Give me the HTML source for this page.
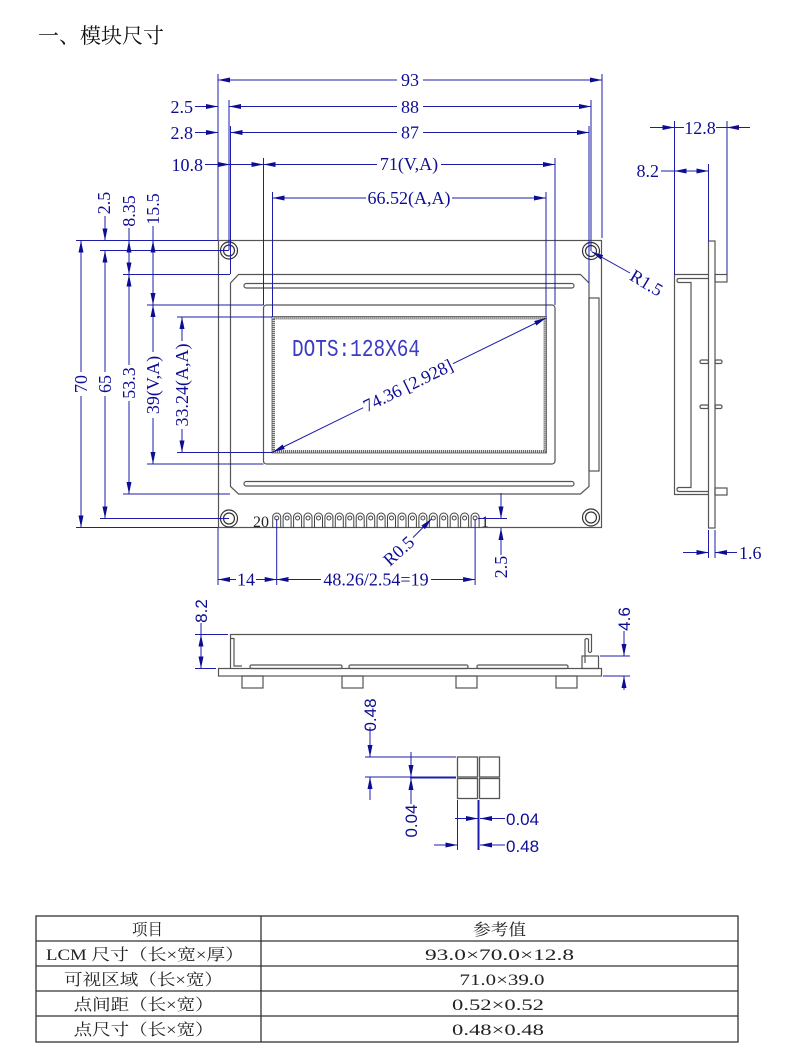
<!DOCTYPE html>
<html><head><meta charset="utf-8">
<style>
html,body{margin:0;padding:0;background:#fff;}
svg{display:block;}
.d{stroke:#1c1ca8;stroke-width:1;fill:none;}
.o{stroke:#555;stroke-width:1.2;fill:none;}
.t{font-family:"Liberation Serif",serif;font-size:18px;fill:#0d0d94;}
.s{font-family:"Liberation Sans",sans-serif;font-size:17px;fill:#0d0d94;}
.w{fill:#fff;}
.tb{font-family:"Liberation Serif","Noto Serif CJK SC",serif;font-size:16px;fill:#222;}
</style></head><body>
<svg width="790" height="1063" viewBox="0 0 790 1063" xmlns="http://www.w3.org/2000/svg">
<defs>
<marker id="a" viewBox="0 0 12 5" refX="12" refY="2.5" markerWidth="12" markerHeight="5" markerUnits="userSpaceOnUse" orient="auto-start-reverse"><path d="M0,0L12,2.5L0,5z" fill="#0d0d94"/></marker>
</defs>

<!-- Title -->
<text x="38" y="43" font-family="'Liberation Serif','Noto Serif CJK SC',serif" font-size="21" fill="#111">一、模块尺寸</text>

<!-- ===== FRONT VIEW OUTLINES ===== -->
<rect x="218.5" y="240.5" width="383" height="287" class="o"/>
<path class="o" d="M238.5,274.5H580.5L589,283V486.5L580.5,494H238.5L230.5,486.5V283Z"/>
<rect x="244" y="283.5" width="330" height="4.5" rx="2.2" class="o"/>
<rect x="244" y="481.5" width="330" height="4.5" rx="2.2" class="o"/>
<rect x="589" y="298" width="10" height="173" class="o"/>
<rect x="263.5" y="305" width="291.5" height="159" rx="3" class="o"/>
<rect x="273.5" y="318" width="271.5" height="133.5" fill="none" stroke="#6a6a6a" stroke-width="3" stroke-dasharray="1.2 0.8"/>
<rect x="272" y="316.5" width="274.5" height="136.5" fill="none" stroke="#555" stroke-width="0.8"/>
<g stroke="#333" stroke-width="1.2" fill="none">
<circle cx="229" cy="250.5" r="8.5"/><circle cx="229" cy="250.5" r="5.5"/>
<circle cx="591" cy="251" r="8.5"/><circle cx="591" cy="251" r="5.5"/>
<circle cx="229" cy="518.5" r="8.5"/><circle cx="229" cy="518.5" r="5.5"/>
<circle cx="591" cy="517.5" r="8.5"/><circle cx="591" cy="517.5" r="5.5"/>
</g>
<!-- pins -->
<g stroke="#444" stroke-width="1" fill="none">
<path d="M272.7,528V517a4,4 0 0 1 8,0V528"/><circle cx="276.7" cy="518" r="2"/>
<path d="M283.1,528V517a4,4 0 0 1 8,0V528"/><circle cx="287.1" cy="518" r="2"/>
<path d="M293.6,528V517a4,4 0 0 1 8,0V528"/><circle cx="297.6" cy="518" r="2"/>
<path d="M304,528V517a4,4 0 0 1 8,0V528"/><circle cx="308" cy="518" r="2"/>
<path d="M314.5,528V517a4,4 0 0 1 8,0V528"/><circle cx="318.5" cy="518" r="2"/>
<path d="M324.9,528V517a4,4 0 0 1 8,0V528"/><circle cx="328.9" cy="518" r="2"/>
<path d="M335.3,528V517a4,4 0 0 1 8,0V528"/><circle cx="339.3" cy="518" r="2"/>
<path d="M345.8,528V517a4,4 0 0 1 8,0V528"/><circle cx="349.8" cy="518" r="2"/>
<path d="M356.2,528V517a4,4 0 0 1 8,0V528"/><circle cx="360.2" cy="518" r="2"/>
<path d="M366.7,528V517a4,4 0 0 1 8,0V528"/><circle cx="370.7" cy="518" r="2"/>
<path d="M377.1,528V517a4,4 0 0 1 8,0V528"/><circle cx="381.1" cy="518" r="2"/>
<path d="M387.5,528V517a4,4 0 0 1 8,0V528"/><circle cx="391.5" cy="518" r="2"/>
<path d="M398,528V517a4,4 0 0 1 8,0V528"/><circle cx="402" cy="518" r="2"/>
<path d="M408.4,528V517a4,4 0 0 1 8,0V528"/><circle cx="412.4" cy="518" r="2"/>
<path d="M418.9,528V517a4,4 0 0 1 8,0V528"/><circle cx="422.9" cy="518" r="2"/>
<path d="M429.3,528V517a4,4 0 0 1 8,0V528"/><circle cx="433.3" cy="518" r="2"/>
<path d="M439.7,528V517a4,4 0 0 1 8,0V528"/><circle cx="443.7" cy="518" r="2"/>
<path d="M450.2,528V517a4,4 0 0 1 8,0V528"/><circle cx="454.2" cy="518" r="2"/>
<path d="M460.6,528V517a4,4 0 0 1 8,0V528"/><circle cx="464.6" cy="518" r="2"/>
<path d="M471.1,528V517a4,4 0 0 1 8,0V528"/><circle cx="475.1" cy="518" r="2"/>
</g>
<text x="253" y="527" font-family="'Liberation Serif',serif" font-size="16" fill="#222">20</text>
<text x="481" y="527" font-family="'Liberation Serif',serif" font-size="16" fill="#222">1</text>

<text x="292" y="356" font-family="'Liberation Mono',monospace" font-size="24" fill="#3b3bc4" textLength="128" lengthAdjust="spacingAndGlyphs">DOTS:128X64</text>

<!-- diagonal -->
<line class="d" x1="273" y1="452" x2="546" y2="318" marker-start="url(#a)" marker-end="url(#a)"/>
<g transform="translate(408,385.5) rotate(-26.1)"><rect class="w" x="-50" y="-8" width="100" height="16"/><text class="t" text-anchor="middle" y="6">74.36 [2.928]</text></g>

<!-- ===== TOP DIMENSIONS ===== -->
<g class="d">
<line x1="218" y1="74" x2="218" y2="240"/>
<line x1="602" y1="74" x2="602" y2="238"/>
<line x1="218" y1="80" x2="602" y2="80" marker-start="url(#a)" marker-end="url(#a)"/>
<line x1="229" y1="100" x2="229" y2="250"/>
<line x1="591" y1="100" x2="591" y2="251"/>
<line x1="229" y1="106.5" x2="591" y2="106.5" marker-start="url(#a)" marker-end="url(#a)"/>
<line x1="195" y1="106.5" x2="218" y2="106.5" marker-end="url(#a)"/>
<line x1="230.5" y1="126" x2="230.5" y2="274"/>
<line x1="589" y1="126" x2="589" y2="283"/>
<line x1="230.5" y1="132.5" x2="589" y2="132.5" marker-start="url(#a)" marker-end="url(#a)"/>
<line x1="195" y1="132.5" x2="218" y2="132.5" marker-end="url(#a)"/>
<line x1="263.5" y1="158" x2="263.5" y2="305"/>
<line x1="555" y1="158" x2="555" y2="305"/>
<line x1="205" y1="164.5" x2="230" y2="164.5" marker-end="url(#a)"/>
<line x1="230" y1="164.5" x2="263.5" y2="164.5" marker-end="url(#a)"/>
<line x1="263.5" y1="164.5" x2="555" y2="164.5" marker-start="url(#a)" marker-end="url(#a)"/>
<line x1="272.5" y1="192" x2="272.5" y2="317"/>
<line x1="546" y1="192" x2="546" y2="317"/>
<line x1="272.5" y1="198" x2="546" y2="198" marker-start="url(#a)" marker-end="url(#a)"/>
</g>
<rect class="w" x="397" y="72" width="26" height="16"/><text class="t" x="410" y="86" text-anchor="middle">93</text>
<rect class="w" x="397" y="99" width="26" height="16"/><text class="t" x="410" y="113" text-anchor="middle">88</text>
<rect class="w" x="397" y="125" width="26" height="16"/><text class="t" x="410" y="138.5" text-anchor="middle">87</text>
<rect class="w" x="377" y="156" width="64" height="17"/><text class="t" x="409" y="170" text-anchor="middle">71(V,A)</text>
<rect class="w" x="366" y="190" width="86" height="17"/><text class="t" x="409" y="204" text-anchor="middle">66.52(A,A)</text>
<text class="t" x="193" y="113" text-anchor="end">2.5</text>
<text class="t" x="193" y="139" text-anchor="end">2.8</text>
<text class="t" x="203" y="171" text-anchor="end">10.8</text>

<!-- ===== LEFT DIMENSIONS ===== -->
<g class="d">
<line x1="76" y1="240.5" x2="218" y2="240.5"/>
<line x1="76" y1="527.5" x2="218" y2="527.5"/>
<line x1="81" y1="240.5" x2="81" y2="527.5" marker-start="url(#a)" marker-end="url(#a)"/>
<line x1="100" y1="250.5" x2="229" y2="250.5"/>
<line x1="100" y1="518.5" x2="229" y2="518.5"/>
<line x1="105" y1="250.5" x2="105" y2="518.5" marker-start="url(#a)" marker-end="url(#a)"/>
<line x1="105" y1="216" x2="105" y2="240.5" marker-end="url(#a)"/>
<line x1="123" y1="274.5" x2="230" y2="274.5"/>
<line x1="123" y1="494" x2="230" y2="494"/>
<line x1="129" y1="274.5" x2="129" y2="494" marker-start="url(#a)" marker-end="url(#a)"/>
<line x1="129" y1="240.5" x2="129" y2="274.5" marker-start="url(#a)" marker-end="url(#a)"/>
<line x1="129" y1="228" x2="129" y2="240.5"/>
<line x1="147" y1="305" x2="263.5" y2="305"/>
<line x1="147" y1="464" x2="263.5" y2="464"/>
<line x1="153" y1="305" x2="153" y2="464" marker-start="url(#a)" marker-end="url(#a)"/>
<line x1="153" y1="240.5" x2="153" y2="305" marker-start="url(#a)" marker-end="url(#a)"/>
<line x1="153" y1="226" x2="153" y2="240.5"/>
<line x1="177" y1="317" x2="272.5" y2="317"/>
<line x1="177" y1="452.5" x2="272.5" y2="452.5"/>
<line x1="182" y1="317" x2="182" y2="452.5" marker-start="url(#a)" marker-end="url(#a)"/>
</g>
<g transform="translate(81,384) rotate(-90)"><rect class="w" x="-12" y="-8" width="24" height="16"/><text class="t" text-anchor="middle" y="6">70</text></g>
<g transform="translate(105,384) rotate(-90)"><rect class="w" x="-12" y="-8" width="24" height="16"/><text class="t" text-anchor="middle" y="6">65</text></g>
<g transform="translate(129,383) rotate(-90)"><rect class="w" x="-18" y="-8" width="36" height="16"/><text class="t" text-anchor="middle" y="6">53.3</text></g>
<g transform="translate(153,385) rotate(-90)"><rect class="w" x="-33" y="-8" width="66" height="17"/><text class="t" text-anchor="middle" y="6">39(V,A)</text></g>
<g transform="translate(182,385) rotate(-90)"><rect class="w" x="-44" y="-8" width="88" height="17"/><text class="t" text-anchor="middle" y="6">33.24(A,A)</text></g>
<g transform="translate(104,203) rotate(-90)"><text class="t" text-anchor="middle" y="6">2.5</text></g>
<g transform="translate(129,211) rotate(-90)"><text class="t" text-anchor="middle" y="6">8.35</text></g>
<g transform="translate(153,209) rotate(-90)"><text class="t" text-anchor="middle" y="6">15.5</text></g>

<!-- R1.5 -->
<line class="d" x1="630" y1="273" x2="591.5" y2="251.5" marker-end="url(#a)"/>
<g transform="translate(630,273) rotate(31)"><text class="t" x="2" y="6">R1.5</text></g>

<!-- ===== BOTTOM DIMENSIONS ===== -->
<g class="d">
<line x1="218" y1="528" x2="218" y2="585"/>
<line x1="276.7" y1="519" x2="276.7" y2="585"/>
<line x1="475.1" y1="519" x2="475.1" y2="585"/>
<line x1="218" y1="579.5" x2="276.7" y2="579.5" marker-start="url(#a)" marker-end="url(#a)"/>
<line x1="276.7" y1="579.5" x2="475.1" y2="579.5" marker-start="url(#a)" marker-end="url(#a)"/>
<line x1="478" y1="518.5" x2="507" y2="518.5"/>
<line x1="501" y1="493" x2="501" y2="518.5" marker-end="url(#a)"/>
<line x1="501" y1="555" x2="501" y2="528" marker-end="url(#a)"/>
<line x1="413" y1="537.5" x2="431.5" y2="519" marker-end="url(#a)"/>
</g>
<rect class="w" x="236" y="572" width="20" height="16"/><text class="t" x="246" y="585.5" text-anchor="middle">14</text>
<rect class="w" x="321" y="572" width="110" height="16"/><text class="t" x="376" y="585.5" text-anchor="middle">48.26/2.54=19</text>
<g transform="translate(501,567) rotate(-90)"><text class="t" text-anchor="middle" y="6">2.5</text></g>
<g transform="translate(413,538) rotate(-42)"><text class="t" text-anchor="end" x="-2" y="6">R0.5</text></g>

<!-- ===== SIDE VIEW ===== -->
<rect x="708.5" y="241" width="6.5" height="287" class="o"/>
<path class="o" d="M708,274.5H674.5V494.5H708"/>
<path class="o" d="M708,278.5H679Q677,278.5 677,280.5Q677,282.5 679,282.5H691V487.5H679Q677,487.5 677,489.5Q677,491.5 679,491.5H708"/>
<rect x="715" y="274.5" width="12" height="7.5" class="o"/>
<rect x="715" y="488" width="12" height="7" class="o"/>
<rect x="700" y="360" width="8.5" height="3.5" rx="1.5" class="o"/>
<rect x="715" y="360" width="7" height="3.5" rx="1.5" class="o"/>
<rect x="700" y="405" width="8.5" height="3.5" rx="1.5" class="o"/>
<rect x="715" y="405" width="7" height="3.5" rx="1.5" class="o"/>
<g class="d">
<line x1="674.5" y1="121" x2="674.5" y2="274.5"/>
<line x1="727" y1="121" x2="727" y2="274.5"/>
<line x1="650" y1="127.5" x2="674.5" y2="127.5" marker-end="url(#a)"/>
<line x1="750" y1="127.5" x2="727" y2="127.5" marker-end="url(#a)"/>
<line x1="674.5" y1="127.5" x2="727" y2="127.5"/>
<line x1="708.5" y1="164" x2="708.5" y2="241"/>
<line x1="661" y1="171" x2="708.5" y2="171" marker-end="url(#a)"/>
<line x1="686" y1="171" x2="674.5" y2="171" marker-end="url(#a)"/>
<line x1="708.5" y1="530" x2="708.5" y2="558"/>
<line x1="715" y1="530" x2="715" y2="558"/>
<line x1="683" y1="552.5" x2="708.5" y2="552.5" marker-end="url(#a)"/>
<line x1="737" y1="552.5" x2="715" y2="552.5" marker-end="url(#a)"/>
</g>
<rect class="w" x="684" y="120" width="32" height="15"/><text class="t" x="700" y="134" text-anchor="middle">12.8</text>
<text class="t" x="659" y="177" text-anchor="end">8.2</text>
<text class="t" x="739" y="559">1.6</text>

<!-- ===== BOTTOM SIDE VIEW ===== -->
<rect x="218.5" y="668.5" width="383" height="7.5" class="o"/>
<path class="o" d="M230.5,668V634.5H591.5V651.5Q590,653.5 588.5,651.5V639.5Q586.8,637.5 585,639.5V663"/>
<path class="o" d="M230.5,638.5H234V666H242"/>
<rect x="582" y="656" width="16.5" height="12.5" class="o"/>
<rect x="250" y="665" width="92" height="3.5" rx="1.5" class="o"/>
<rect x="349" y="665" width="119" height="3.5" rx="1.5" class="o"/>
<rect x="477" y="665" width="91" height="3.5" rx="1.5" class="o"/>
<rect x="242" y="676" width="21" height="12" class="o"/>
<rect x="342" y="676" width="21" height="12" class="o"/>
<rect x="456" y="676" width="21" height="12" class="o"/>
<rect x="556" y="676" width="21" height="12" class="o"/>
<g class="d">
<line x1="195" y1="634.5" x2="228" y2="634.5"/>
<line x1="195" y1="668.5" x2="216" y2="668.5"/>
<line x1="201" y1="634.5" x2="201" y2="668.5" marker-start="url(#a)" marker-end="url(#a)"/>
<line x1="201" y1="623" x2="201" y2="634.5"/>
<line x1="600" y1="656" x2="630" y2="656"/>
<line x1="603" y1="676" x2="630" y2="676"/>
<line x1="624" y1="631" x2="624" y2="656" marker-end="url(#a)"/>
<line x1="624" y1="690" x2="624" y2="676" marker-end="url(#a)"/>
</g>
<g transform="translate(201,611) rotate(-90)"><text class="s" text-anchor="middle" y="6">8.2</text></g>
<g transform="translate(624,619) rotate(-90)"><text class="s" text-anchor="middle" y="6">4.6</text></g>

<!-- ===== DOT DETAIL ===== -->
<g stroke="#555" stroke-width="1.3" fill="none">
<rect x="457.5" y="757" width="20" height="20"/>
<rect x="479.5" y="757" width="20" height="20"/>
<rect x="457.5" y="778.5" width="20" height="20"/>
<rect x="479.5" y="778.5" width="20" height="20"/>
</g>
<g class="d">
<line x1="365" y1="757" x2="456" y2="757"/>
<line x1="365" y1="777" x2="456" y2="777"/>
<line x1="410" y1="777.5" x2="456" y2="777.5" stroke-width="2"/>
<line x1="370" y1="727" x2="370" y2="757" marker-end="url(#a)"/>
<line x1="370" y1="800" x2="370" y2="777" marker-end="url(#a)"/>
<line x1="411" y1="752" x2="411" y2="777" marker-end="url(#a)"/>
<line x1="411" y1="804" x2="411" y2="778" marker-end="url(#a)"/>
<line x1="457.5" y1="800" x2="457.5" y2="850"/>
<line x1="478.5" y1="800" x2="478.5" y2="850" stroke-width="2"/>
<line x1="455" y1="818.5" x2="478" y2="818.5" marker-end="url(#a)"/>
<line x1="505" y1="818.5" x2="480" y2="818.5" marker-end="url(#a)"/>
<line x1="434" y1="845" x2="457.5" y2="845" marker-end="url(#a)"/>
<line x1="505" y1="845" x2="480" y2="845" marker-end="url(#a)"/>
</g>
<g transform="translate(370,715) rotate(-90)"><text class="s" text-anchor="middle" y="6">0.48</text></g>
<g transform="translate(411,821) rotate(-90)"><text class="s" text-anchor="middle" y="6">0.04</text></g>
<text class="s" x="506" y="825">0.04</text>
<text class="s" x="506" y="852">0.48</text>

<!-- ===== TABLE ===== -->
<g stroke="#333" stroke-width="1.3" fill="none">
<rect x="36" y="916" width="702" height="126"/>
<line x1="36" y1="941" x2="738" y2="941"/>
<line x1="36" y1="966" x2="738" y2="966"/>
<line x1="36" y1="991" x2="738" y2="991"/>
<line x1="36" y1="1016" x2="738" y2="1016"/>
<line x1="261" y1="916" x2="261" y2="1042"/>
</g>
<text class="tb" x="132" y="935" textLength="31" lengthAdjust="spacingAndGlyphs">项目</text>
<text class="tb" x="473" y="935" textLength="53" lengthAdjust="spacingAndGlyphs">参考值</text>
<text class="tb" x="46" y="960" textLength="198" lengthAdjust="spacingAndGlyphs">LCM 尺寸（长×宽×厚）</text>
<text class="tb" x="425" y="960" textLength="149" lengthAdjust="spacingAndGlyphs">93.0×70.0×12.8</text>
<text class="tb" x="64" y="985" textLength="159" lengthAdjust="spacingAndGlyphs">可视区域（长×宽）</text>
<text class="tb" x="459.5" y="985" textLength="85" lengthAdjust="spacingAndGlyphs">71.0×39.0</text>
<text class="tb" x="73.6" y="1010" textLength="140" lengthAdjust="spacingAndGlyphs">点间距（长×宽）</text>
<text class="tb" x="452" y="1010" textLength="92" lengthAdjust="spacingAndGlyphs">0.52×0.52</text>
<text class="tb" x="73.6" y="1035" textLength="140" lengthAdjust="spacingAndGlyphs">点尺寸（长×宽）</text>
<text class="tb" x="452" y="1035" textLength="92" lengthAdjust="spacingAndGlyphs">0.48×0.48</text>
</svg>
</body></html>
